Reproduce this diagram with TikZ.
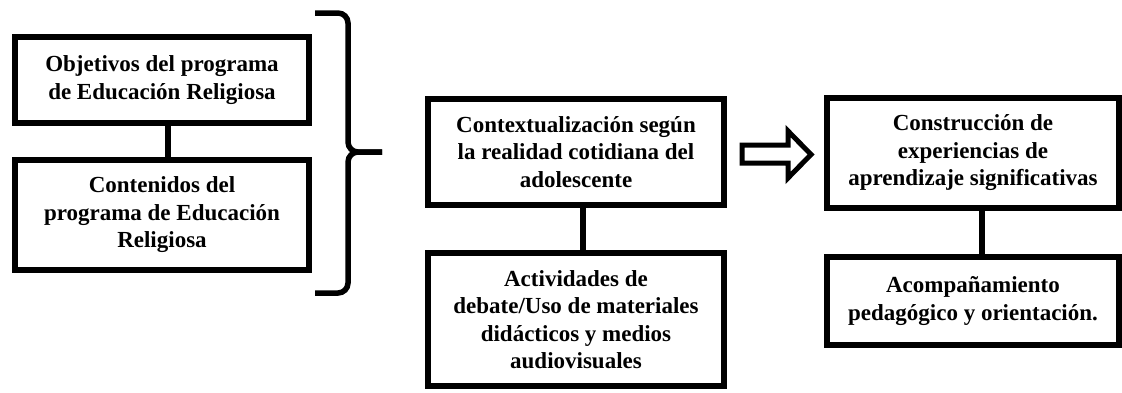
\documentclass[tikz,border=0pt]{standalone}
\usepackage{fontspec}
\setmainfont{Liberation Serif}
\begin{document}
\begin{tikzpicture}[x=1pt,y=-1pt,
  box/.style={draw=black,line width=6.5pt,fill=white,align=center,inner sep=0pt,
    font=\bfseries\fontsize{23}{27.5}\selectfont},
  link/.style={draw=black,line width=6pt},
  bracestyle/.style={draw=black,line width=5.5pt,rounded corners=10pt},
  hollow/.style={draw=black,line width=5pt,line join=miter,fill=white}]
\useasboundingbox (0,0) rectangle (1122,392);
% left column
\node[box,minimum width=294pt,minimum height=86pt] (b1) at (162,80)
  {Objetivos del programa\\de Educación Religiosa};
\node[box,minimum width=294pt,minimum height=110pt] (b2) at (162,215)
  {Contenidos del\\programa de Educación\\Religiosa};
\draw[link] ([xshift=6pt]b1.south) -- ([xshift=6pt]b2.north);
% brace
\coordinate (bt) at (315,13);
\coordinate (bb) at (315,293);
\coordinate (bm) at (348,152);
\coordinate (btip) at (382,152);
\draw[bracestyle] (bt) -- (348,13) -- (bm) -- (btip);
\draw[bracestyle] (bb) -- (348,293) -- (bm) -- (btip);
% middle column
\node[box,minimum width=296pt,minimum height=106pt] (b3) at (576,152)
  {Contextualización según\\la realidad cotidiana del\\adolescente};
\node[box,minimum width=296pt,minimum height=133pt] (b4) at (576,319.5)
  {Actividades de\\debate/Uso de materiales\\didácticos y medios\\audiovisuales};
\draw[link] ([xshift=7pt]b3.south) -- ([xshift=7pt]b4.north);
% hollow arrow
\draw[hollow] (742,145) -- (788,145) -- (788,131) -- (811,154.5) -- (788,178)
  -- (788,163) -- (742,163) -- cycle;
% right column
\node[box,minimum width=292pt,minimum height=110pt] (b5) at (973,153)
  {Construcción de\\experiencias de\\aprendizaje significativas};
\node[box,minimum width=292pt,minimum height=88pt] (b6) at (973,301)
  {Acompañamiento\\pedagógico y orientación.};
\draw[link] ([xshift=9pt]b5.south) -- ([xshift=9pt]b6.north);
\end{tikzpicture}
\end{document}
